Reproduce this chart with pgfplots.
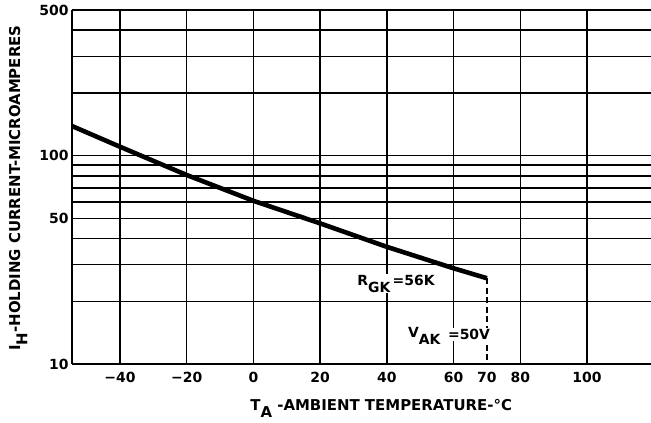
\documentclass[border=0pt]{standalone}
\usepackage{fontspec}
\setmainfont{DejaVu Sans}
\usepackage{pgfplots}
\pgfplotsset{compat=1.18}
\newcommand\sub[1]{\raisebox{-0.5em}{#1}}
\newcommand\lab{\fontsize{14}{14}\selectfont\bfseries}
\begin{document}
\begin{tikzpicture}
\useasboundingbox (-72bp,-59bp) rectangle (579bp,364bp);
\begin{axis}[
  at={(0,0)}, anchor=south west,
  scale only axis, width=579bp, height=354bp,
  ymode=log, xmin=-54.4, xmax=119.2, ymin=10, ymax=500,
  axis x line=bottom, axis y line=left,
  axis line style={-, line width=1.5bp},
  xtick={-40,-20,0,20,40,60,80,100},
  xticklabels={−40,−20,0,20,40,60,80,100},
  extra x ticks={70}, extra x tick labels={70}, extra x tick style={grid=none},
  ytick={10,50,100,500}, yticklabels={10,50,100,500},
  minor ytick={20,30,40,60,70,80,90,200,300,400},
  grid=both,
  major grid style={black, line width=1.4bp},
  minor grid style={black, line width=1.4bp},
  major tick length=0pt, minor tick length=0pt,
  tick label style={font=\lab},
  xticklabel style={anchor=base, yshift=-19bp},
  xlabel={T\sub{A} -AMBIENT TEMPERATURE-°C},
  xlabel style={at={(axis description cs:0.534,-0.130)}, anchor=base, font=\fontsize{15}{15}\selectfont\bfseries},
  ylabel={I\sub{H}-HOLDING CURRENT-MICROAMPERES},
  ylabel style={at={(axis description cs:-0.0898,0.497)}, anchor=base, rotate=0, font=\fontsize{15}{15}\selectfont\bfseries},
]
\addplot[black, line width=4.6bp] coordinates {(-54.4,138.7) (-40,110.3) (-20,80.7) (0,60.7) (20,47.3) (40,36.5) (60,28.8) (70,25.8)};
\addplot[black, line width=1.4bp, dash pattern=on 6bp off 3.5bp] coordinates {(70,25.8) (70,10)};
\node[anchor=base west, fill=white, inner sep=1bp, font=\lab] at (axis cs:30.8,23.9) {R\sub{GK}\,=56K};
\node[anchor=base west, inner sep=1bp, font=\lab] at (axis cs:46.0,13.4) {V\sub{AK}};
\node[anchor=base west, fill=white, inner sep=1bp, font=\lab] at (axis cs:58.0,13.1) {=50V};
\end{axis}
\end{tikzpicture}
\end{document}
